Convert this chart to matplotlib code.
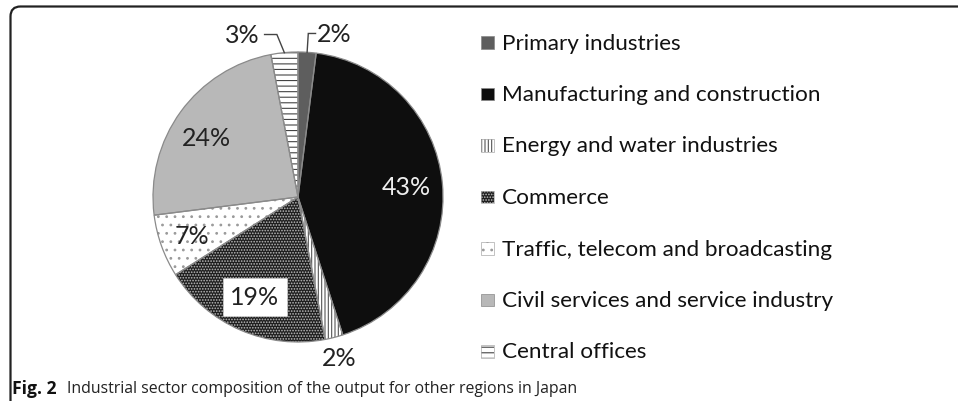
import matplotlib
matplotlib.use("Agg")
import matplotlib.pyplot as plt
import numpy as np
from matplotlib.patches import Rectangle, FancyBboxPatch

# ---- data ----
categories = ["Primary industries", "Manufacturing and construction",
              "Energy and water industries", "Commerce",
              "Traffic, telecom and broadcasting",
              "Civil services and service industry", "Central offices"]
shares = [2, 43, 2, 19, 7, 24, 3]
pct_labels = ["2%", "43%", "2%", "19%", "7%", "24%", "3%"]
caption_bold = "Fig. 2"
caption_text = "Industrial sector composition of the output for other regions in Japan"

# ---- styles ----
face_colors = ["#5e5e5e", "#0e0e0e", "#ffffff", "#1e1e1e", "#ffffff", "#b8b8b8", "#ffffff"]
hatches = [None, None, "|||||", "......", "..", None, "---"]
hatch_colors = ["#5e5e5e", "#0e0e0e", "#555555", "#bdbdbd", "#9a9a9a", "#b8b8b8", "#444444"]
label_mode = ["leader", "in", "out", "box", "in", "in", "leader"]
label_r = [1.13, 0.75, 1.14, 0.75, 0.78, 0.75, 1.13]
label_dang = [0, 0, 0, 0, 0, 3, 2.0]          # angular nudge (deg)
leader_len = [0.05, 0, 0, 0, 0, 0, 0.085]
leader_gap = [0.012, 0, 0, 0, 0, 0, 0.035]
label_colors = ["#222222", "#eeeeee", "#222222", "#222222", "#222222", "#222222", "#222222"]

W, H, DPI = 958, 402, 100
plt.rcParams["hatch.linewidth"] = 0.8
fig = plt.figure(figsize=(W / DPI, H / DPI), dpi=DPI)
fig.patch.set_facecolor("white")

# frame (top + left border with rounded corner)
frame = FancyBboxPatch((10.5, -40), 1000, 402 - 7.5 + 40,
                       boxstyle="round,pad=0,rounding_size=10",
                       transform=None, facecolor="none",
                       edgecolor="#222222", linewidth=1.6)
fig.add_artist(frame)

cx, cy, R = 298, 402 - 198, 145
ax = fig.add_axes([(cx - R) / W, (cy - R) / H, 2 * R / W, 2 * R / H])
wedges, _ = ax.pie(shares, startangle=90, counterclock=False, radius=1,
                   colors=face_colors, wedgeprops=dict(linewidth=0))
for w, h, hc in zip(wedges, hatches, hatch_colors):
    if h:
        w.set_hatch(h)
        w.set_edgecolor(hc)
        if hasattr(w, "set_hatchcolor"):
            w.set_hatchcolor(hc)
        w.set_linewidth(0)
# outlines
ax.pie(shares, startangle=90, counterclock=False, radius=1,
       colors=["none"] * len(shares),
       wedgeprops=dict(linewidth=0.9, edgecolor="#8a8a8a", fill=False))
ax.set_xlim(-1, 1)
ax.set_ylim(-1, 1)
ax.set_aspect("equal")
ax.axis("off")

fs_lab = 18
for w, lab, mode, r, da, ll, lg, col in zip(wedges, pct_labels, label_mode, label_r,
                                            label_dang, leader_len, leader_gap, label_colors):
    mid = (w.theta1 + w.theta2) / 2
    ang = np.deg2rad(mid)
    c, s = np.cos(ang), np.sin(ang)
    ang2 = np.deg2rad(mid + da)
    c2, s2 = np.cos(ang2), np.sin(ang2)
    if mode == "leader":
        side = 1 if c > 0 else -1
        ex, ey = r * c2, r * s2
        hx = ex + side * ll
        ax.plot([c, ex, hx], [s, ey, ey], color="#444444", lw=1.0,
                clip_on=False, solid_joinstyle="miter")
        ax.text(hx + side * lg, ey, lab, ha="left" if side > 0 else "right",
                va="center", fontsize=fs_lab, family="Lato", color=col)
    elif mode == "box":
        ax.text(r * c2, r * s2, lab, ha="center", va="center", fontsize=fs_lab,
                family="Lato", color=col,
                bbox=dict(boxstyle="square,pad=0.3", facecolor="white",
                          edgecolor="#cccccc", linewidth=0.5))
    else:
        ax.text(r * c2, r * s2, lab, ha="center", va="center", fontsize=fs_lab,
                family="Lato", color=col)

# legend (manual)
lx, ltx, ly0, ldy, msz = 481, 502, 43.5, 51.5, 12.5
for i, (name, fc, h, hc) in enumerate(zip(categories, face_colors, hatches, hatch_colors)):
    y = ly0 + i * ldy
    rect = Rectangle((lx / W, 1 - (y + msz / 2) / H), msz / W, msz / H,
                     transform=fig.transFigure, facecolor=fc,
                     edgecolor=hc if h else "#888888", linewidth=0 if h else 0.5)
    if h:
        rect.set_hatch(h)
        if hasattr(rect, "set_hatchcolor"):
            rect.set_hatchcolor(hc)
    fig.add_artist(rect)
    if h:
        fig.add_artist(Rectangle((lx / W, 1 - (y + msz / 2) / H), msz / W, msz / H,
                                 transform=fig.transFigure, fill=False,
                                 edgecolor="#aaaaaa", linewidth=0.5))
    fig.text(ltx / W, 1 - y / H, name, ha="left", va="center",
             fontsize=16.2, family="Lato", color="#111111")

# caption
fig.text(12 / W, 1 - 389 / H, caption_bold, ha="left", va="center",
         fontsize=12.6, family="Open Sans", fontweight="bold", color="#111111")
fig.text(67 / W, 1 - 389 / H, caption_text, ha="left", va="center",
         fontsize=11.4, family="Open Sans", color="#222222")

fig.savefig("out.png", dpi=DPI, facecolor="white")
